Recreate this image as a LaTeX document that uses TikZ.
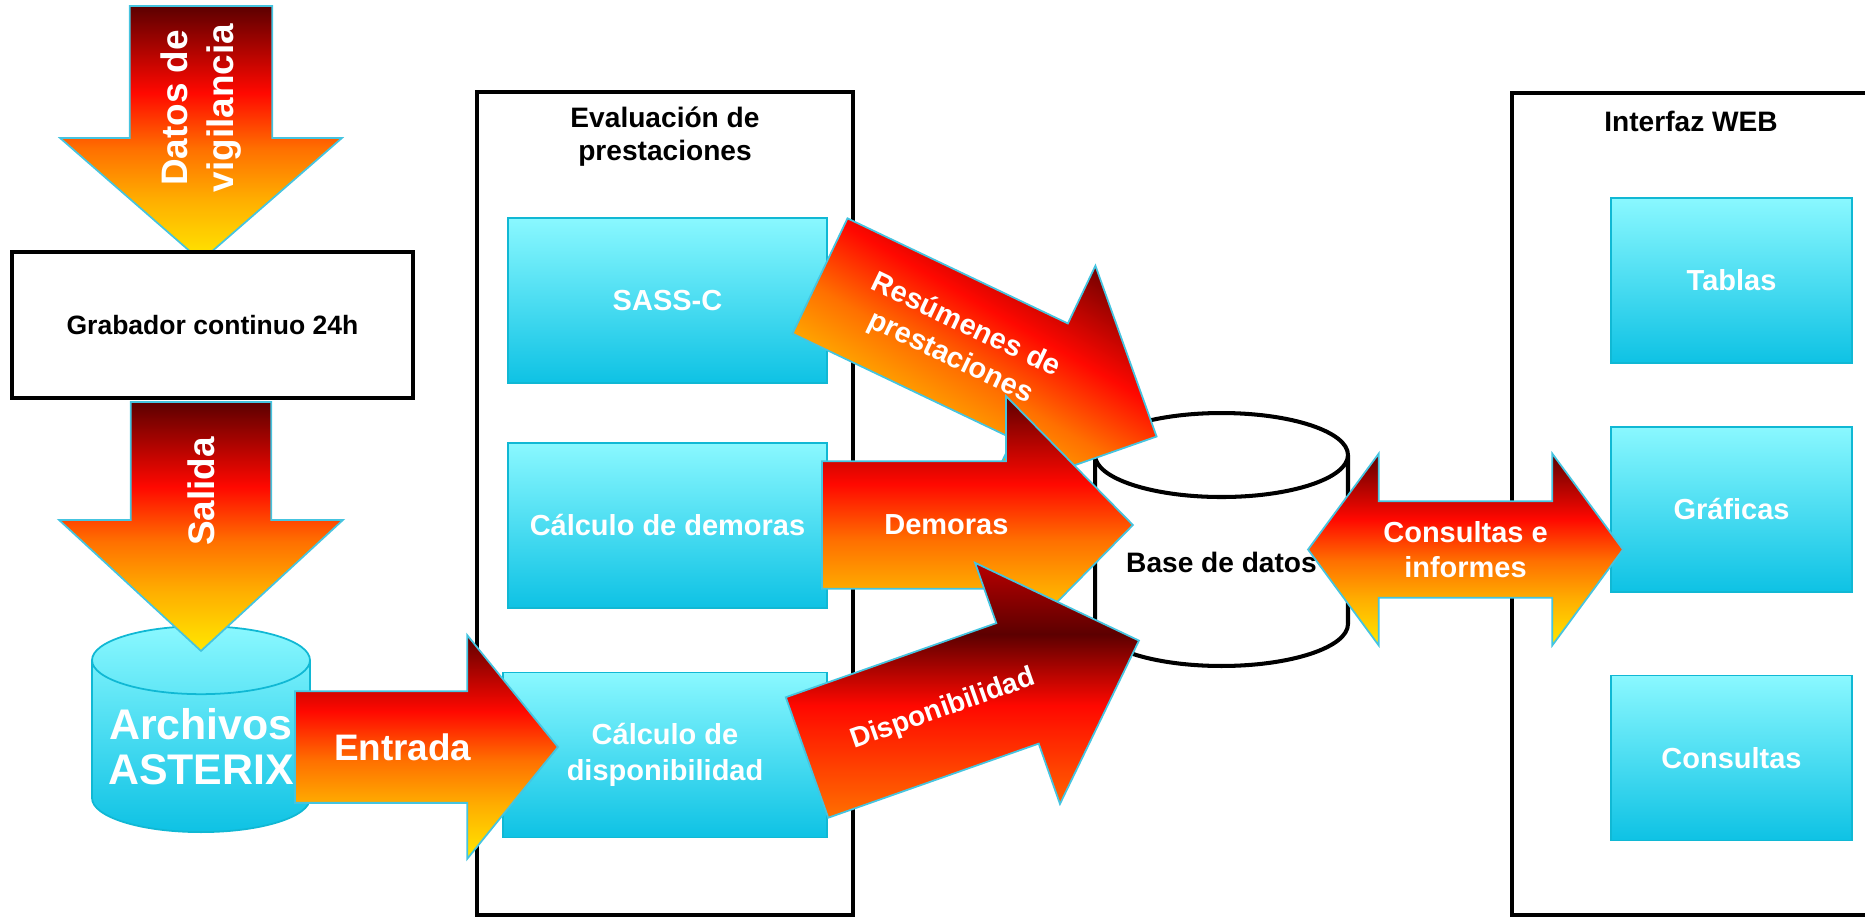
\documentclass[tikz,border=0pt]{standalone}
\usepackage{fontspec}
\setmainfont{Liberation Sans}
\usetikzlibrary{calc,positioning,shapes.geometric,shapes.arrows}

\definecolor{firedark}{HTML}{5C0000}
\definecolor{firered}{HTML}{FF0800}
\definecolor{fireorange}{HTML}{FF7000}
\definecolor{fireamber}{HTML}{FFAE00}
\definecolor{fireyellow}{HTML}{FFE800}
\definecolor{emberred}{HTML}{B80000}
\definecolor{arrowrim}{HTML}{45C4E0}
\definecolor{cyantop}{HTML}{8AF8FF}
\definecolor{cyanbot}{HTML}{0EC2E4}
\definecolor{cyanrim}{HTML}{10B8D4}
\pgfdeclareverticalshading{flame}{100bp}{color(0bp)=(fireyellow); color(25bp)=(fireyellow);
  color(37bp)=(fireamber); color(47bp)=(fireorange); color(58bp)=(firered);
  color(75bp)=(firedark); color(100bp)=(firedark)}
\pgfdeclareverticalshading{ember}{100bp}{color(0bp)=(fireorange); color(25bp)=(fireorange);
  color(47bp)=(firered); color(61bp)=(firedark); color(75bp)=(emberred); color(100bp)=(emberred)}

\begin{document}
\begin{tikzpicture}[
    x=0.02cm, y=-0.02cm,
    frame/.style={draw, line width=2.3pt, fill=white},
    title/.style={align=center, font=\fontsize{16}{18.7}\selectfont\bfseries},
    block/.style={draw=cyanrim, line width=1pt, top color=cyantop, bottom color=cyanbot,
      text=white, align=center, minimum width=4.82cm, minimum height=3.3cm,
      font=\fontsize{16.5}{20}\selectfont\bfseries},
    drum/.style={cylinder, shape border rotate=90, inner sep=0pt, anchor=south},
    fat/.style={single arrow, shade, shading=flame, draw=arrowrim, line width=1pt,
      inner sep=0pt, outer sep=0pt, anchor=tail},
    flow/.style={text=white, align=center, font=\fontsize{16.5}{20}\selectfont\bfseries},
    bigflow/.style={flow, font=\fontsize{21}{26.5}\selectfont\bfseries}
  ]
  \useasboundingbox (0,0) rectangle (1865,918);

  \node[frame, minimum width=7.52cm, minimum height=16.46cm] (evaluacion) at (665,503.5) {};
  \node[frame, minimum width=7.16cm, minimum height=16.44cm] (interfaz) at (1691,504) {};
  \node[title] (evaltitle) at (665,137) {Evaluación de\\prestaciones};
  \node[title] (webtitle) at (1691,121) {Interfaz WEB};

  \node[block, minimum width=6.38cm] (sassc) at (667.5,300.5) {SASS-C};
  \node[block, minimum width=6.38cm, below=1.16cm of sassc] (demoras) {Cálculo de demoras};
  \node[block, minimum width=6.48cm, below left=1.26cm and 0cm of demoras.south east] (dispon) {Cálculo de\\disponibilidad};
  \node[block] (tablas) at (1731.5,280.5) {Tablas};
  \node[block, below=1.24cm of tablas] (graficas) {Gráficas};
  \node[block, below=1.64cm of graficas] (consultas) {Consultas};

  \node[drum, draw=cyanrim, line width=1pt, top color=cyantop, bottom color=cyanbot,
        inner xsep=2.18cm, minimum width=4.36cm, minimum height=4.12cm, aspect=0.312] (archivos) at (201,833) {};
  \node[drum, draw, line width=2.3pt, fill=white, inner xsep=2.53cm,
        minimum width=5.06cm, minimum height=5.06cm, aspect=0.332] (basedatos) at (1221.5,668) {};
  \node[flow, font=\fontsize{24.4}{25.5}\selectfont\bfseries] (archivostext)
        at ([yshift=0.34cm]archivos.center) {Archivos\\ASTERIX};
  \node[title] (basetext) at ([yshift=0.41cm]basedatos.center) {Base de datos};

  \node[fat, rotate=-90, inner ysep=1.41cm, minimum height=5.1cm, minimum width=5.6cm,
        single arrow head extend=1.39cm, single arrow tip angle=97.8] (datos) at (201,6) {};
  \node[frame, minimum width=8.02cm, minimum height=2.92cm,
        font=\fontsize{15.1}{18}\selectfont\bfseries] (grabador) at (212.5,325) {Grabador continuo 24h};
  \node[fat, rotate=-90, inner ysep=1.39cm, minimum height=4.98cm, minimum width=5.64cm,
        single arrow head extend=1.43cm, single arrow tip angle=94.6] (salida)
        at ([xshift=-0.23cm, yshift=-0.04cm]grabador.south) {};
  \node[fat, inner ysep=1.1cm, minimum height=5.26cm, minimum width=4.44cm,
        single arrow head extend=1.12cm, single arrow tip angle=101.9] (entrada) at (295,747) {};
  \node[fat, rotate=-25.5, shading angle=-30, inner ysep=1.26cm, minimum height=7.46cm, minimum width=5.08cm,
        single arrow head extend=1.28cm, single arrow tip angle=89.6] (resumenes) at (820,276) {};
  \node[fat, inner ysep=1.26cm, minimum height=6.22cm, minimum width=5.12cm,
        single arrow head extend=1.3cm, single arrow tip angle=90.9] (demorasarr) at (822,525) {};
  \node[fat, rotate=19.4, shading=ember, inner ysep=1.26cm, minimum height=7.04cm, minimum width=5.08cm,
        single arrow head extend=1.28cm, single arrow tip angle=89.6] (disponarr) at (807,757.5) {};
  \node[double arrow, shade, shading=flame, draw=arrowrim, line width=1pt, inner sep=0pt,
        inner ysep=0.95cm, minimum height=6.3cm, minimum width=3.8cm,
        double arrow head extend=0.95cm, double arrow tip angle=107.2] (consultasarr) at (1465.5,549.5) {};

  \node[bigflow, rotate=90] (datostext) at ($(datos.tail)!0.4!(datos.tip)$) {Datos de\\vigilancia};
  \node[bigflow, rotate=90] (salidatext) at ($(salida.tail)!0.36!(salida.tip)$) {Salida};
  \node[bigflow] (entradatext) at ($(entrada.tail)!0.41!(entrada.tip)$) {Entrada};
  \node[flow, rotate=-25.5] (resumtext) at ($(resumenes.tail)!0.41!(resumenes.tip)$) {Resúmenes de\\prestaciones};
  \node[flow] (demorastext) at ($(demorasarr.tail)!0.4!(demorasarr.tip)$) {Demoras};
  \node[flow, rotate=19.4, font=\fontsize{16}{19}\selectfont\bfseries] (dispotext)
        at ($(disponarr.tail)!0.41!(disponarr.tip)$) {Disponibilidad};
  \node[flow] (consultastext) at (consultasarr) {Consultas e\\informes};
\end{tikzpicture}
\end{document}
